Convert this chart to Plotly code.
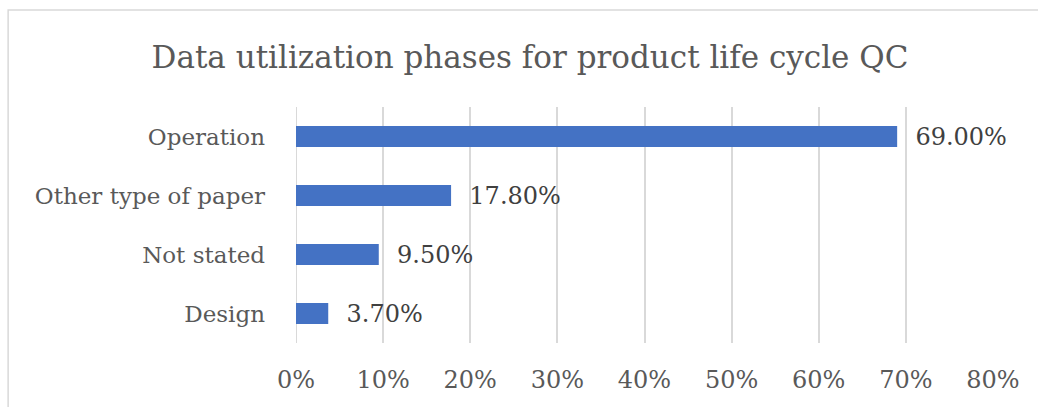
import plotly.graph_objects as go

# Share of studies by life-cycle phase of the data used for QC
phases = ["Design", "Not stated", "Other type of paper", "Operation"]
shares = [3.7, 9.5, 17.8, 69.0]
x_ticks = [0, 10, 20, 30, 40, 50, 60, 70, 80]
x_tick_labels = [f"{v}%" for v in x_ticks]

FONT = "DejaVu Serif, Liberation Serif, serif"
GREY_TEXT = "#595959"
GRID = "#d9d9d9"
NBSP = "\u00a0"

fig = go.Figure(
    go.Bar(
        x=shares,
        y=phases,
        orientation="h",
        marker=dict(color="#4472C4", line=dict(width=0)),
        text=[f"{NBSP * 2}{v:.2f}%" for v in shares],
        textposition="outside",
        constraintext="none",
        textfont=dict(family=FONT, size=24, color="#404040"),
        cliponaxis=False,
        width=0.36,
    )
)

# thin frame around the chart area (right/bottom edges fall outside the page)
fig.add_shape(
    type="rect", xref="paper", yref="paper",
    x0=-0.413, x1=1.2, y0=-0.4, y1=1.411,
    line=dict(color=GRID, width=1.5), fillcolor="rgba(0,0,0,0)", layer="below",
)

fig.update_layout(
    width=1038,
    height=407,
    margin=dict(l=296, r=45, t=107, b=64),
    paper_bgcolor="white",
    plot_bgcolor="white",
    showlegend=False,
    title=dict(
        text="Data utilization phases for product life cycle QC",
        font=dict(family=FONT, size=31, color=GREY_TEXT),
        x=530 / 1038, xanchor="center", xref="container",
        y=1 - 57 / 407, yref="container", yanchor="middle",
    ),
    xaxis=dict(
        range=[0, 80],
        tickvals=x_ticks,
        ticktext=x_tick_labels,
        showgrid=True,
        gridcolor=GRID,
        gridwidth=2,
        zeroline=False,
        showline=False,
        ticks="",
        ticklabelstandoff=20,
        tickfont=dict(family=FONT, size=24, color=GREY_TEXT),
    ),
    yaxis=dict(
        showgrid=False,
        zeroline=False,
        showline=False,
        ticks="",
        ticklabelstandoff=30,
        tickfont=dict(family=FONT, size=23, color=GREY_TEXT),
    ),
)

# 0% gridline drawn under the bars at the bar base
fig.add_vline(x=0, line=dict(color=GRID, width=2), layer="below")

fig.write_html("out.html")
